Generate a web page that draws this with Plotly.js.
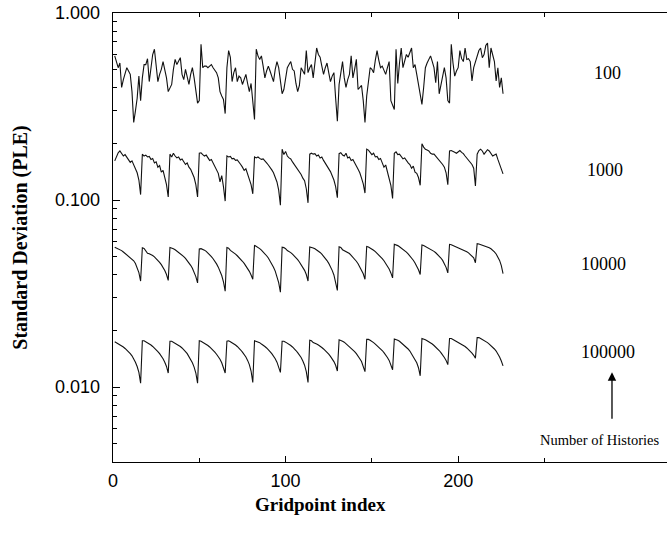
<!DOCTYPE html>
<html><head><meta charset="utf-8">
<script src="https://cdn.plot.ly/plotly-3.0.1.min.js"></script>
<style>html,body{margin:0;padding:0;background:#fff;overflow:hidden}</style>
</head><body><div id="chart" style="width:667px;height:546px"></div>
<script>
// Standard deviation of the PLE per gridpoint, for four numbers of histories
const historyLabels = ['100', '1000', '10000', '100000'];

const std100 = [
0.59,0.55,0.51,0.54,0.40,0.44,0.48,0.51,0.49,0.47,
0.38,0.26,0.30,0.35,0.46,0.34,0.45,0.53,0.53,0.57,
0.43,0.52,0.60,0.64,0.52,0.43,0.47,0.50,0.55,0.50,
0.45,0.38,0.40,0.415,0.50,0.565,0.53,0.55,0.577,0.47,
0.44,0.50,0.46,0.415,0.47,0.51,0.45,0.38,0.33,0.34,
0.68,0.51,0.52,0.52,0.51,0.52,0.53,0.51,0.49,0.48,
0.45,0.38,0.36,0.345,0.29,0.51,0.63,0.58,0.43,0.48,
0.51,0.43,0.46,0.45,0.415,0.44,0.47,0.42,0.38,0.42,
0.34,0.27,0.64,0.59,0.565,0.59,0.52,0.45,0.49,0.52,
0.49,0.46,0.43,0.50,0.55,0.51,0.43,0.37,0.39,0.46,
0.51,0.53,0.55,0.50,0.49,0.42,0.38,0.41,0.51,0.49,
0.47,0.63,0.48,0.51,0.53,0.45,0.55,0.65,0.60,0.58,
0.52,0.47,0.51,0.54,0.48,0.43,0.46,0.48,0.35,0.264,
0.415,0.49,0.55,0.45,0.40,0.44,0.47,0.59,0.45,0.50,
0.565,0.39,0.40,0.41,0.34,0.26,0.36,0.43,0.51,0.50,
0.48,0.56,0.63,0.56,0.51,0.52,0.49,0.47,0.51,0.55,
0.34,0.32,0.305,0.64,0.42,0.54,0.65,0.51,0.56,0.60,
0.58,0.62,0.65,0.51,0.53,0.47,0.415,0.36,0.325,0.40,
0.51,0.54,0.565,0.59,0.55,0.51,0.424,0.55,0.37,0.415,
0.46,0.51,0.45,0.34,0.33,
0.68,0.54,0.46,0.49,0.51,0.63,0.57,0.55,
0.65,0.565,0.57,0.55,0.433,0.51,0.55,0.60,0.63,0.65,
0.577,0.60,0.67,0.69,0.51,0.65,0.59,0.55,0.433,0.51,
0.40,0.45,0.37
];

const std1000 = [
0.162,0.170,0.179,0.183,0.178,0.172,0.175,0.170,0.165,0.159,0.162,0.155,0.149,0.140,0.128,0.107,
0.176,0.172,0.174,0.170,0.171,0.165,0.167,0.158,0.160,0.150,0.153,0.141,0.144,0.130,0.121,0.104,
0.176,0.170,0.178,0.172,0.168,0.170,0.164,0.166,0.160,0.155,0.158,0.150,0.146,0.140,0.132,0.121,0.104,
0.178,0.179,0.175,0.172,0.174,0.168,0.163,0.165,0.158,0.152,0.147,0.139,0.125,0.135,0.118,0.0988,
0.172,0.170,0.171,0.166,0.167,0.163,0.164,0.158,0.155,0.150,0.144,0.147,0.137,0.130,0.121,0.108,
0.170,0.168,0.170,0.167,0.165,0.166,0.161,0.158,0.154,0.150,0.145,0.140,0.133,0.125,0.113,0.094,
0.187,0.175,0.182,0.172,0.168,0.166,0.160,0.155,0.151,0.146,0.142,0.137,0.131,0.127,0.115,0.0967,
0.176,0.178,0.176,0.177,0.172,0.174,0.168,0.170,0.163,0.158,0.152,0.148,0.142,0.135,0.128,0.118,0.103,
0.177,0.179,0.174,0.172,0.178,0.168,0.170,0.163,0.165,0.157,0.152,0.146,0.140,0.131,0.122,0.109,
0.187,0.185,0.180,0.175,0.178,0.170,0.171,0.165,0.167,0.158,0.150,0.154,0.140,0.132,0.120,0.102,
0.178,0.181,0.175,0.176,0.171,0.166,0.168,0.162,0.158,0.155,0.148,0.152,0.141,0.139,0.132,0.120,
0.200,0.192,0.187,0.185,0.183,0.178,0.176,0.176,0.172,0.168,0.163,0.160,0.155,0.150,0.140,0.121,
0.183,0.184,0.181,0.180,0.178,0.182,0.184,0.180,0.177,0.172,0.168,0.164,0.160,0.155,0.148,0.119,
0.176,0.184,0.187,0.183,0.176,0.180,0.186,0.183,0.178,0.172,0.174,0.176,0.165,0.155,0.146,0.138
];

const std10000 = [
0.0560,0.0555,0.0550,0.0545,0.0537,0.0528,0.0518,0.0510,0.0502,0.0494,0.0485,0.0474,0.0458,0.0436,0.0410,0.0369,
0.0556,0.0552,0.0538,0.0520,0.0516,0.0512,0.0505,0.0497,0.0488,0.0477,0.0465,0.0452,0.0437,0.0420,0.0400,0.0372,
0.0558,0.0555,0.0550,0.0543,0.0535,0.0527,0.0518,0.0509,0.0499,0.0488,0.0476,0.0463,0.0448,0.0432,0.0413,0.0390,0.0361,
0.0548,0.0550,0.0547,0.0540,0.0532,0.0522,0.0511,0.0499,0.0486,0.0472,0.0456,0.0438,0.0418,0.0395,0.0366,0.0326,
0.0558,0.0553,0.0538,0.0531,0.0523,0.0514,0.0504,0.0494,0.0483,0.0471,0.0459,0.0446,0.0432,0.0416,0.0398,0.0377,
0.0574,0.0567,0.0559,0.0550,0.0540,0.0529,0.0517,0.0504,0.0490,0.0474,0.0457,0.0438,0.0417,0.0393,0.0362,0.0322,
0.0560,0.0557,0.0550,0.0537,0.0532,0.0524,0.0514,0.0504,0.0492,0.0480,0.0467,0.0453,0.0438,0.0421,0.0400,0.0369,
0.0562,0.0560,0.0555,0.0549,0.0542,0.0534,0.0525,0.0514,0.0502,0.0489,0.0475,0.0459,0.0441,0.0421,0.0398,0.0368,0.0329,
0.0563,0.0558,0.0543,0.0537,0.0534,0.0527,0.0518,0.0507,0.0496,0.0484,0.0471,0.0457,0.0441,0.0424,0.0404,0.0377,
0.0565,0.0561,0.0555,0.0547,0.0539,0.0530,0.0520,0.0510,0.0499,0.0487,0.0474,0.0460,0.0445,0.0428,0.0408,0.0384,
0.0580,0.0578,0.0571,0.0563,0.0555,0.0546,0.0537,0.0527,0.0516,0.0504,0.0491,0.0477,0.0461,0.0444,0.0424,0.0400,
0.0575,0.0572,0.0566,0.0556,0.0552,0.0547,0.0540,0.0532,0.0523,0.0513,0.0502,0.0490,0.0476,0.0459,0.0437,0.0408,
0.0580,0.0577,0.0572,0.0566,0.0561,0.0557,0.0553,0.0548,0.0542,0.0536,0.0529,0.0522,0.0513,0.0503,0.0491,0.0462,
0.0585,0.0583,0.0579,0.0575,0.0571,0.0567,0.0562,0.0556,0.0549,0.0540,0.0529,0.0515,0.0498,0.0476,0.0446,0.0405
];

const std100000 = [
0.0175,0.0173,0.0171,0.0169,0.0167,0.0164,0.0161,0.0158,0.0155,0.0151,0.0147,0.0142,0.0136,0.0129,0.0120,0.0105,
0.0177,0.0177,0.0175,0.0173,0.0171,0.0168,0.0165,0.0162,0.0159,0.0155,0.0151,0.0147,0.0142,0.0136,0.0129,0.0119,
0.0176,0.0176,0.0174,0.0172,0.0170,0.0168,0.0165,0.0162,0.0159,0.0155,0.0151,0.0146,0.0141,0.0135,0.0128,0.0119,0.0105,
0.0177,0.0176,0.0174,0.0172,0.0169,0.0167,0.0164,0.0161,0.0157,0.0154,0.0150,0.0146,0.0141,0.0135,0.0128,0.0119,
0.0176,0.0177,0.0175,0.0173,0.0171,0.0168,0.0165,0.0162,0.0158,0.0154,0.0150,0.0145,0.0139,0.0132,0.0122,0.0106,
0.0177,0.0176,0.0175,0.0173,0.0170,0.0168,0.0165,0.0162,0.0159,0.0155,0.0151,0.0147,0.0142,0.0136,0.0129,0.0120,
0.0176,0.0176,0.0174,0.0172,0.0170,0.0167,0.0164,0.0161,0.0157,0.0153,0.0149,0.0144,0.0138,0.0131,0.0121,0.0106,
0.0178,0.0177,0.0173,0.0172,0.0170,0.0168,0.0166,0.0163,0.0160,0.0157,0.0154,0.0150,0.0146,0.0142,0.0137,0.0131,0.0122,
0.0179,0.0178,0.0176,0.0174,0.0171,0.0168,0.0165,0.0162,0.0158,0.0155,0.0151,0.0147,0.0142,0.0137,0.0130,0.0121,
0.0180,0.0180,0.0178,0.0176,0.0173,0.0170,0.0167,0.0164,0.0161,0.0157,0.0153,0.0149,0.0144,0.0139,0.0132,0.0124,
0.0181,0.0180,0.0178,0.0176,0.0173,0.0170,0.0167,0.0163,0.0160,0.0156,0.0151,0.0146,0.0141,0.0135,0.0127,0.0115,
0.0182,0.0181,0.0179,0.0177,0.0175,0.0172,0.0170,0.0167,0.0164,0.0160,0.0157,0.0153,0.0149,0.0144,0.0139,0.0132,
0.0182,0.0182,0.0180,0.0178,0.0176,0.0174,0.0172,0.0170,0.0167,0.0165,0.0162,0.0159,0.0156,0.0152,0.0148,0.0143,
0.0184,0.0184,0.0182,0.0180,0.0178,0.0176,0.0173,0.0170,0.0167,0.0164,0.0160,0.0156,0.0151,0.0145,0.0138,0.0130
];

const yTickVals = [0.01, 0.1, 1];
const yTickText = ['0.010', '0.100', '1.000'];
const yMinorVals = [0.004,0.005,0.006,0.007,0.008,0.009,0.02,0.03,0.04,0.05,0.06,0.07,0.08,0.09,0.2,0.3,0.4,0.5,0.6,0.7,0.8,0.9];
const xTickVals = [0, 100, 200];
const xTickText = ['0', '100', '200'];
const xMinorVals = [50, 150, 250];

const seriesList = [std100, std1000, std10000, std100000];
const traces = seriesList.map((ys, k) => ({
  type: 'scatter', mode: 'lines', name: historyLabels[k],
  x: ys.map((_, i) => i + 1), y: ys,
  line: {color: '#111', width: 1.1}, showlegend: false, hoverinfo: 'skip'
}));

const sans = 'Liberation Sans, Arial, Helvetica, sans-serif';
const serif = 'Liberation Serif, Times New Roman, serif';

const labelPos = [[0.892, 0.866], [0.888, 0.650], [0.886, 0.441], [0.893, 0.245]];
const annotations = historyLabels.map((t, k) => ({
  xref: 'paper', yref: 'paper', x: labelPos[k][0], y: labelPos[k][1],
  text: t, showarrow: false, xanchor: 'center', yanchor: 'middle',
  font: {family: serif, size: 18, color: '#000'}
}));
annotations.push({
  xref: 'paper', yref: 'paper', x: 0.9007, y: 0.200, ax: 0, ay: 48,
  text: '', showarrow: true, arrowhead: 2, arrowsize: 1.3, arrowwidth: 1.3, arrowcolor: '#000'
});
annotations.push({
  xref: 'paper', yref: 'paper', x: 0.879, y: 0.049,
  text: 'Number of Histories', showarrow: false, xanchor: 'center', yanchor: 'middle',
  font: {family: serif, size: 14.5, color: '#000'}
});
annotations.push({
  xref: 'paper', yref: 'paper', x: 0.375, y: -0.094,
  text: '<b>Gridpoint index</b>', showarrow: false, xanchor: 'center', yanchor: 'middle',
  font: {family: serif, size: 19, color: '#000'}
});

const layout = {
  width: 667, height: 546,
  margin: {l: 113, r: 0, t: 13, b: 84},
  paper_bgcolor: '#fff', plot_bgcolor: '#fff',
  showlegend: false,
  xaxis: {
    range: [0, 321], tickmode: 'array', tickvals: xTickVals, ticktext: xTickText,
    ticks: 'inside', ticklen: 6, tickwidth: 1, tickcolor: '#000',
    showline: true, linecolor: '#000', linewidth: 1.3, mirror: 'ticks',
    showgrid: false, zeroline: false, ticklabelstandoff: 2,
    minor: {tickmode: 'array', tickvals: xMinorVals, ticks: 'inside', ticklen: 4, tickcolor: '#000', showgrid: false},
    tickfont: {family: sans, size: 18, color: '#000'}
  },
  yaxis: {
    type: 'log', range: [-2.4, 0], tickmode: 'array', tickvals: yTickVals, ticktext: yTickText,
    ticks: 'inside', ticklen: 7, tickwidth: 1, tickcolor: '#000',
    showline: true, linecolor: '#000', linewidth: 1.3, mirror: false,
    showgrid: false, zeroline: false, ticklabelstandoff: 8,
    minor: {tickmode: 'array', tickvals: yMinorVals, ticks: 'inside', ticklen: 4, tickcolor: '#000', showgrid: false},
    tickfont: {family: sans, size: 18, color: '#000'},
    title: {text: '<b>Standard Deviation (PLE)</b>', font: {family: serif, size: 20, color: '#000'}, standoff: 22}
  },
  annotations: annotations
};

Plotly.newPlot('chart', traces, layout, {staticPlot: true, displayModeBar: false});
</script></body></html>
